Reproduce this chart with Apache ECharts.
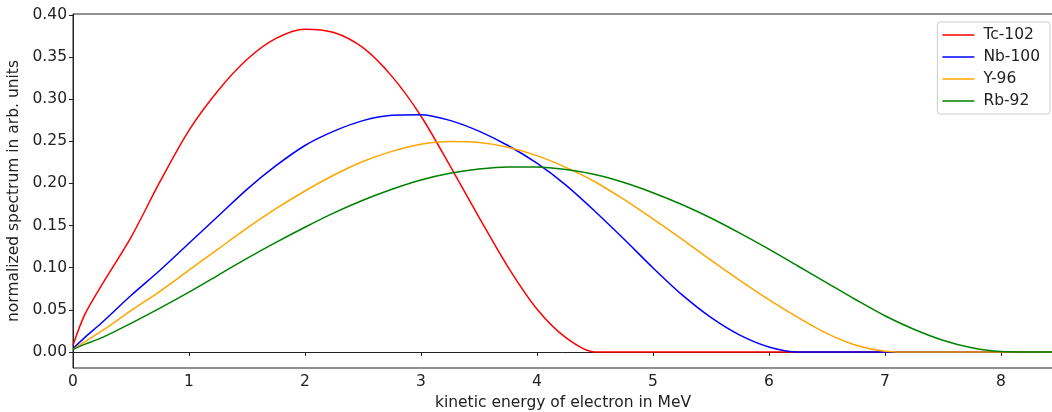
<!DOCTYPE html>
<html>
<head>
<meta charset="utf-8">
<script src="https://cdn.jsdelivr.net/npm/echarts@6/dist/echarts.min.js"></script>
<style>
  html, body { margin: 0; padding: 0; background: #fff; }
  #chart { width: 1052px; height: 412px; }
</style>
</head>
<body>
<div id="chart"></div>
<script>
// energies in MeV
const energy = [0, 0.1, 0.25, 0.5, 0.75, 1, 1.25, 1.5, 1.75, 2, 2.25, 2.5, 2.75, 3, 3.25, 3.5, 3.75, 4, 4.25, 4.5,
  4.75, 5, 5.25, 5.5, 5.75, 6, 6.25, 6.5, 6.75, 7, 7.25, 7.5, 7.75, 8, 8.25, 8.45];

const tc102 = [0.008, 0.044, 0.080, 0.136, 0.202, 0.263, 0.310, 0.347, 0.372, 0.383, 0.379, 0.361, 0.327, 0.280, 0.221, 0.160, 0.101, 0.051, 0.017, 0,
  0, 0, 0, 0, 0, 0, 0, 0, 0, 0, 0, 0, 0, 0, 0, 0];
const nb100 = [0.004, 0.017, 0.035, 0.067, 0.097, 0.129, 0.161, 0.193, 0.221, 0.245, 0.262, 0.2745, 0.2808, 0.2815, 0.2748, 0.262, 0.245, 0.224, 0.198, 0.167,
  0.134, 0.100, 0.068, 0.041, 0.020, 0.006, 0, 0, 0, 0, 0, 0, 0, 0, 0, 0];
const y96 = [0.003, 0.012, 0.025, 0.049, 0.072, 0.097, 0.122, 0.147, 0.170, 0.191, 0.210, 0.226, 0.238, 0.2465, 0.2497, 0.2485, 0.243, 0.233, 0.219, 0.202,
  0.181, 0.158, 0.134, 0.109, 0.085, 0.062, 0.041, 0.022, 0.008, 0.001, 0, 0, 0, 0, 0, 0];
const rb92 = [0.003, 0.009, 0.017, 0.034, 0.052, 0.071, 0.091, 0.111, 0.130, 0.148, 0.165, 0.180, 0.193, 0.204, 0.212, 0.217, 0.2195, 0.2195, 0.2165, 0.2105,
  0.201, 0.189, 0.175, 0.159, 0.141, 0.122, 0.102, 0.082, 0.062, 0.043, 0.027, 0.014, 0.005, 0.0005, 0, 0];

const seriesNames = ['Tc-102', 'Nb-100', 'Y-96', 'Rb-92'];
const seriesValues = [tc102, nb100, y96, rb92];
const seriesColors = ['#ff0000', '#0000ff', '#ffa500', '#008000'];

const font = 'DejaVu Sans';
const ink = '#222222';

const chart = echarts.init(document.getElementById('chart'));

chart.setOption({
  animation: false,
  backgroundColor: '#ffffff',
  textStyle: { fontFamily: font },
  grid: {
    left: 73, top: 14, right: -1, bottom: 44,
    containLabel: false,
    outerBoundsMode: 'none',
    show: true, borderColor: ink, borderWidth: 1, backgroundColor: 'transparent'
  },
  legend: {
    orient: 'vertical',
    right: 2,
    top: 22,
    icon: 'rect',
    itemWidth: 32,
    itemHeight: 1.5,
    itemGap: 6,
    padding: [5, 10, 5, 5],
    backgroundColor: 'rgba(255,255,255,0.8)',
    borderColor: '#cccccc',
    borderWidth: 1,
    borderRadius: 3,
    textStyle: { fontFamily: font, fontSize: 15.5, color: ink, lineHeight: 16, padding: [0, 0, 0, 4] },
    data: seriesNames
  },
  xAxis: {
    type: 'value',
    min: 0,
    max: 8.45,
    interval: 1,
    name: 'kinetic energy of electron in MeV',
    nameLocation: 'middle',
    nameGap: 23,
    nameTextStyle: { fontFamily: font, fontSize: 15.5, color: ink },
    axisLine: { show: true, lineStyle: { color: ink, width: 1 } },
    axisTick: { show: true, length: 4, lineStyle: { color: ink } },
    axisLabel: { fontFamily: font, fontSize: 15.5, color: ink, margin: 6, showMaxLabel: false },
    splitLine: { show: false }
  },
  yAxis: {
    type: 'value',
    min: -0.019,
    max: 0.401,
    splitNumber: 8,
    name: 'normalized spectrum in arb. units',
    nameLocation: 'middle',
    nameGap: 47,
    nameTextStyle: { fontFamily: font, fontSize: 15.5, color: ink },
    axisLine: { show: true, lineStyle: { color: ink, width: 1 } },
    axisTick: { show: true, length: 4, lineStyle: { color: ink } },
    axisLabel: {
      fontFamily: font, fontSize: 15.5, color: ink, margin: 6,
      showMinLabel: false, showMaxLabel: false,
      formatter: v => v.toFixed(2)
    },
    splitLine: { show: false }
  },
  series: seriesNames.map((name, i) => ({
    name: name,
    type: 'line',
    data: energy.map((e, j) => [e, seriesValues[i][j]]),
    smooth: 0.3,
    showSymbol: false,
    color: seriesColors[i],
    lineStyle: { color: seriesColors[i], width: 1.5 },
    z: 2 + i
  }))
});
</script>
</body>
</html>
